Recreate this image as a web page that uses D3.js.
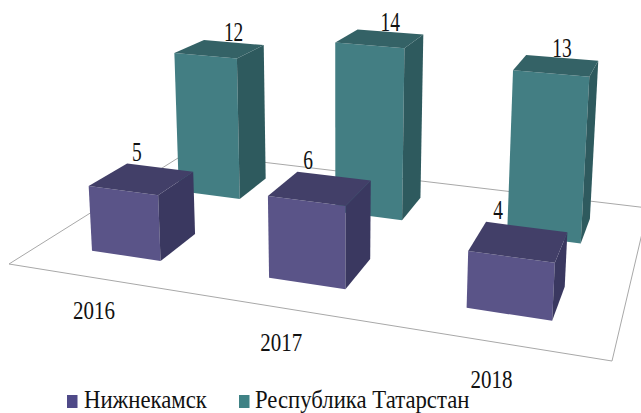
<!DOCTYPE html>
<html>
<head>
<meta charset="utf-8">
<style>
  html, body { margin: 0; padding: 0; background: #fff; }
  svg { display: block; }
  text { font-family: "Liberation Serif", serif; fill: #111; }
</style>
</head>
<body>
<svg id="chart" width="641" height="413"></svg>
<script src="https://cdn.jsdelivr.net/npm/d3@7"></script>
<script>
const years = ["2016", "2017", "2018"];
const seriesNames = ["Нижнекамск", "Республика Татарстан"];
const nizhnekamsk = [5, 6, 4];
const tatarstan = [12, 14, 13];

const svg = d3.select("#chart");

// floor corners in the picture: front-left, front-right, back-right, back-left
const fl = [9, 264], fr = [612, 361], br = [648, 208], bl = [186, 153];

// unit square -> picture homography
const dx1 = fr[0] - br[0], dx2 = bl[0] - br[0], sx = fl[0] - fr[0] + br[0] - bl[0];
const dy1 = fr[1] - br[1], dy2 = bl[1] - br[1], sy = fl[1] - fr[1] + br[1] - bl[1];
const det = dx1 * dy2 - dx2 * dy1;
const g = (sx * dy2 - dx2 * sy) / det;
const h = (dx1 * sy - sx * dy1) / det;
const a = fr[0] - fl[0] + g * fr[0], b = bl[0] - fl[0] + h * bl[0];
const d = fr[1] - fl[1] + g * fr[1], e = bl[1] - fl[1] + h * bl[1];

// verticals lean away from a far vanishing point below the chart
const vp = [336, 5000], vpDist = 4800;

function project(u, v, t) {
  const w = 1 + g * u + h * v - t / vpDist;
  const x = a * u + b * v + fl[0] - t * vp[0] / vpDist;
  const y = d * u + e * v + fl[1] - t * vp[1] / vpDist;
  return [x / w, y / w];
}

const uScale = d3.scaleBand().domain(years).range([0, 1]).paddingInner(0.6).paddingOuter(0.3);
const vScale = d3.scaleBand().domain(seriesNames).range([0, 1]).paddingInner(0.6).paddingOuter(0.3);
const hScale = d3.scaleLinear().domain([0, 14]).range([0, 186]);
const yearU = d3.scalePoint().domain(years).range([0.243, 0.854]);

const colors = {
  "Нижнекамск": { front: "#5a5488", side: "#3a3860", top: "#423f68", legend: "#4f4a88" },
  "Республика Татарстан": { front: "#437e83", side: "#2e5a5e", top: "#346266", legend: "#3f8285" }
};

const line = d3.line();
const poly = pts => line(pts) + "Z";

function stretchedText(sel, x, y, str, size, squeeze, anchor) {
  sel.append("text")
     .attr("transform", `translate(${x},${y}) scale(${squeeze},1)`)
     .attr("text-anchor", anchor)
     .style("font-size", size + "px")
     .text(str);
}

// floor
svg.append("path")
   .attr("d", poly([fl, fr, br, bl]))
   .attr("fill", "#fff")
   .attr("stroke", "#a8a8a8")
   .attr("stroke-width", 1);

// back row first so the front row paints over it
const rows = [
  { name: seriesNames[1], values: tatarstan, labelFrac: 0.5, labelDy: -1 },
  { name: seriesNames[0], values: nizhnekamsk, labelFrac: 0.15, labelDy: -4 }
];

const labels = svg.append("g");

rows.forEach(row => {
  const c = colors[row.name];
  const v0 = vScale(row.name), v1 = v0 + vScale.bandwidth();

  const group = svg.append("g").attr("class", "row");
  years.forEach((yr, i) => {
    const u0 = uScale(yr), u1 = u0 + uScale.bandwidth();
    const t = hScale(row.values[i]);

    group.append("path")
         .attr("d", poly([project(u0, v0, 0), project(u1, v0, 0), project(u1, v0, t), project(u0, v0, t)]))
         .attr("fill", c.front);
    group.append("path")
         .attr("d", poly([project(u1, v0, 0), project(u1, v1, 0), project(u1, v1, t), project(u1, v0, t)]))
         .attr("fill", c.side);
    group.append("path")
         .attr("d", poly([project(u0, v0, t), project(u1, v0, t), project(u1, v1, t), project(u0, v1, t)]))
         .attr("fill", c.top);

    const p = project(u0 + row.labelFrac * uScale.bandwidth(), v1, t);
    stretchedText(labels, p[0], p[1] + row.labelDy, row.values[i], 27, 0.72, "middle");
  });
});
labels.raise();

// year labels lie on the plane in front of the floor
years.forEach(yr => {
  const p = project(yearU(yr), -0.2, 0);
  stretchedText(svg, p[0], p[1], yr, 25, 0.84, "middle");
});

// legend
const legendItems = [
  { name: seriesNames[0], swatch: 67, text: 84 },
  { name: seriesNames[1], swatch: 239, text: 255 }
];
legendItems.forEach(item => {
  svg.append("rect")
     .attr("x", item.swatch)
     .attr("y", 395)
     .attr("width", 10.5)
     .attr("height", 13)
     .attr("fill", colors[item.name].legend);
  stretchedText(svg, item.text, 407.5, item.name, 25, 0.91, "start");
});
</script>
</body>
</html>
